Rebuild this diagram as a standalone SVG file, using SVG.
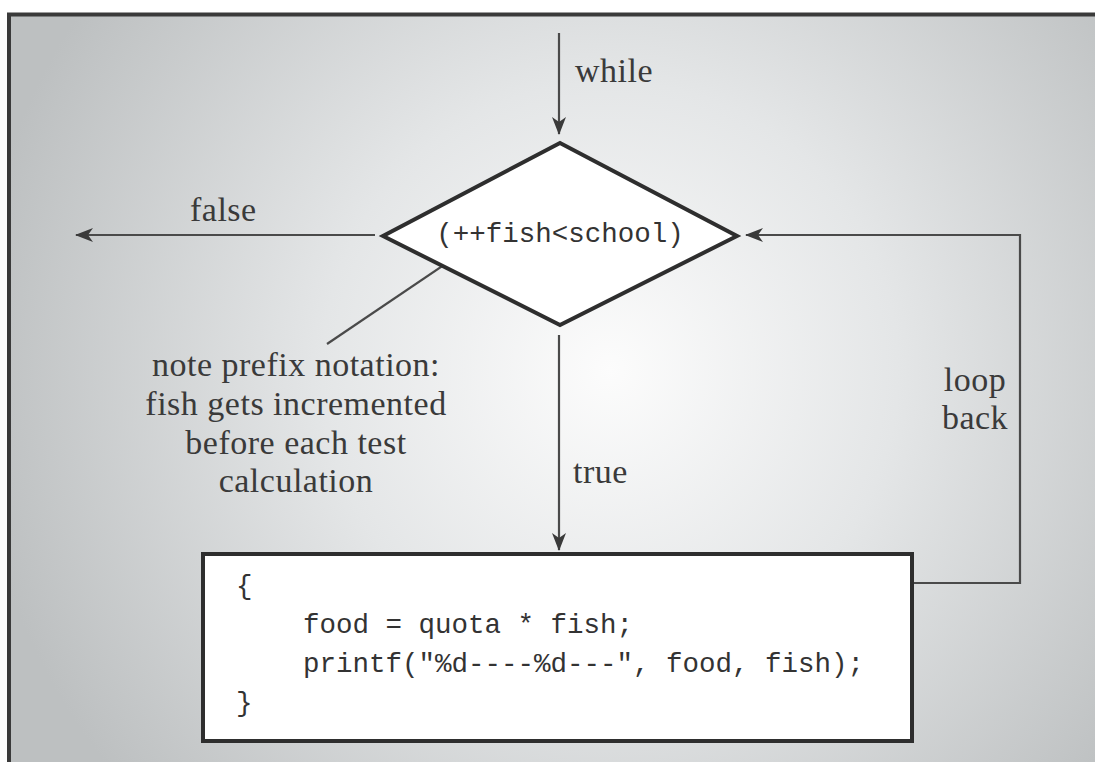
<svg xmlns="http://www.w3.org/2000/svg" width="1095" height="762" viewBox="0 0 1095 762">
<defs>
<radialGradient id="bg" cx="610" cy="370" r="640" gradientUnits="userSpaceOnUse">
<stop offset="0" stop-color="#fcfcfc"/>
<stop offset="0.45" stop-color="#e4e6e7"/>
<stop offset="1" stop-color="#bdc0c1"/>
</radialGradient>
<marker id="ah" viewBox="0 0 18 14" refX="17" refY="7" markerWidth="18" markerHeight="14" markerUnits="userSpaceOnUse" orient="auto">
<path d="M0,0 L18,7 L0,14 L5,7 z" fill="#3a3a3a"/>
</marker>
<style>
.lbl{font-family:"Liberation Serif","Times New Roman",serif;font-size:34px;fill:#3a3a3a;letter-spacing:0.5px}
.code{font-family:"Liberation Mono","Courier New",monospace;font-size:27.5px;fill:#333}
.conn{fill:none;stroke:#4a4a4a;stroke-width:2.2}
.shape{fill:#fff;stroke:#2e2e2e;stroke-width:4}
</style>
</defs>
<rect x="0" y="0" width="1095" height="762" fill="#fff"/>
<rect x="9" y="14.5" width="1100" height="760" fill="url(#bg)" stroke="#3a3a3a" stroke-width="4"/>

<g id="connectors">
<line class="conn" x1="559" y1="33" x2="559" y2="134" marker-end="url(#ah)"/>
<line class="conn" x1="375" y1="235" x2="76" y2="235" marker-end="url(#ah)"/>
<line class="conn" x1="559" y1="335" x2="559" y2="550" marker-end="url(#ah)"/>
<polyline class="conn" points="912,583 1020,583 1020,235 746,235" marker-end="url(#ah)"/>
<line class="conn" x1="469" y1="248" x2="327" y2="344" stroke-width="1.6"/>
<text class="lbl" x="575" y="82">while</text>
<text class="lbl" x="190" y="221">false</text>
<text class="lbl" x="573" y="483">true</text>
<text class="lbl" x="975" y="391" text-anchor="middle">loop</text>
<text class="lbl" x="975" y="429" text-anchor="middle">back</text>
</g>

<g id="decision">
<polygon class="shape" points="560,143 737,236 560,325 383,236"/>
<text class="code" x="560" y="242" text-anchor="middle">(++fish&lt;school)</text>
</g>

<g id="note">
<text class="lbl" x="296" y="376" text-anchor="middle">note prefix notation:</text>
<text class="lbl" x="296" y="415" text-anchor="middle">fish gets incremented</text>
<text class="lbl" x="296" y="454" text-anchor="middle">before each test</text>
<text class="lbl" x="296" y="492" text-anchor="middle">calculation</text>
</g>

<g id="body">
<rect class="shape" x="203" y="554" width="709" height="187"/>
<text class="code" x="236" y="594">{</text>
<text class="code" x="303" y="633">food = quota * fish;</text>
<text class="code" x="303" y="672">printf("%d----%d---", food, fish);</text>
<text class="code" x="236" y="711">}</text>
</g>
</svg>
